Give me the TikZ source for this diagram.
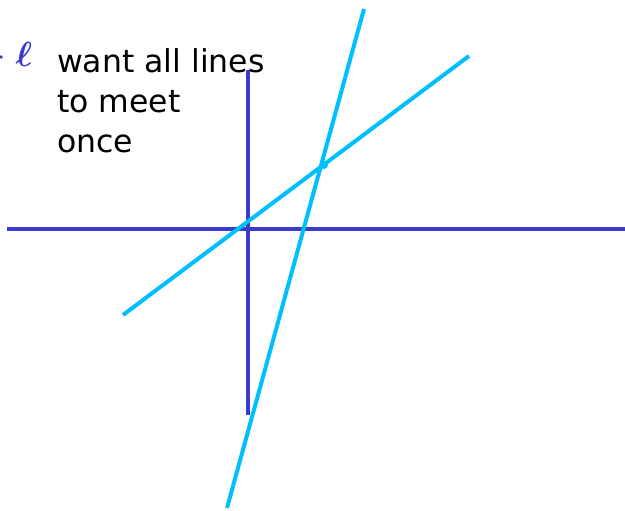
\documentclass[tikz,border=0pt]{standalone}
\usepackage{amsmath}
\usepackage{fontspec}
\setsansfont{DejaVu Sans}
\definecolor{axisblue}{RGB}{58,58,204}
\definecolor{lineblue}{RGB}{0,191,255}
\begin{document}
\begin{tikzpicture}[x=1pt,y=-1pt,
  axis/.style={draw=axisblue,line width=4pt},
  ln/.style={draw=lineblue,line width=4pt}]
\useasboundingbox (0,0) rectangle (625,511);
% axes
\coordinate (xl) at (7,229);
\coordinate (xr) at (625,229);
\coordinate (yt) at (248,70);
\coordinate (yb) at (248,415);
\draw[axis] (xl) -- (xr);
\draw[axis] (yt) -- (yb);
% lines
\coordinate (a1) at (123,315);
\coordinate (a2) at (469,56);
\coordinate (b1) at (364,9);
\coordinate (b2) at (227,508);
\draw[ln] (a1) -- (a2);
\draw[ln] (b1) -- (b2);
\fill[lineblue] (324,165) circle (4pt);
% ell mark
\fill[axisblue] (1,57) circle (1.8pt);
\node[text=axisblue,inner sep=0pt,scale=3.5] (ell) at (24,54) {$\boldsymbol{\ell}$};
% text
\node[font=\sffamily\fontsize{31.5}{40}\selectfont,align=left,anchor=north west,inner sep=0pt] (txt) at (57,48) {want all lines\\to meet\\once};
\end{tikzpicture}
\end{document}
